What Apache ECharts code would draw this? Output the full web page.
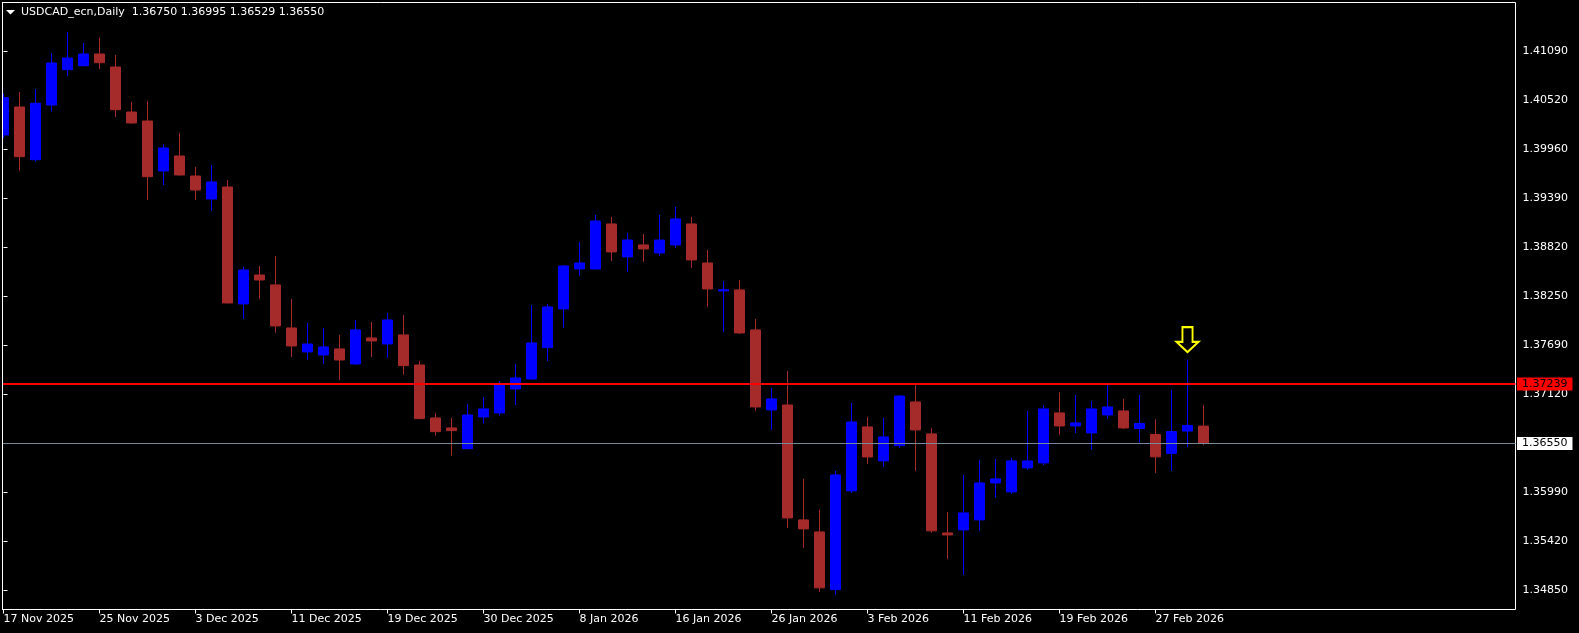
<!DOCTYPE html>
<html>
<head>
<meta charset="utf-8">
<script src="https://cdn.jsdelivr.net/npm/echarts@6/dist/echarts.min.js"></script>
<style>
html,body{margin:0;padding:0;background:#000;overflow:hidden;}
#chart{width:1579px;height:633px;}
</style>
</head>
<body>
<div id="chart"></div>
<script>
const symbolName = 'USDCAD_ecn,Daily';

const dates = [
  '17 Nov 2025','18 Nov 2025','19 Nov 2025','20 Nov 2025','21 Nov 2025','24 Nov 2025','25 Nov 2025','26 Nov 2025','27 Nov 2025','28 Nov 2025',
  '1 Dec 2025','2 Dec 2025','3 Dec 2025','4 Dec 2025','5 Dec 2025','8 Dec 2025','9 Dec 2025','10 Dec 2025','11 Dec 2025','12 Dec 2025',
  '15 Dec 2025','16 Dec 2025','17 Dec 2025','18 Dec 2025','19 Dec 2025','22 Dec 2025','23 Dec 2025','24 Dec 2025','26 Dec 2025','29 Dec 2025',
  '30 Dec 2025','31 Dec 2025','2 Jan 2026','5 Jan 2026','6 Jan 2026','7 Jan 2026','8 Jan 2026','9 Jan 2026','12 Jan 2026','13 Jan 2026',
  '14 Jan 2026','15 Jan 2026','16 Jan 2026','19 Jan 2026','20 Jan 2026','21 Jan 2026','22 Jan 2026','23 Jan 2026','26 Jan 2026','27 Jan 2026',
  '28 Jan 2026','29 Jan 2026','30 Jan 2026','2 Feb 2026','3 Feb 2026','4 Feb 2026','5 Feb 2026','6 Feb 2026','9 Feb 2026','10 Feb 2026',
  '11 Feb 2026','12 Feb 2026','13 Feb 2026','16 Feb 2026','17 Feb 2026','18 Feb 2026','19 Feb 2026','20 Feb 2026','23 Feb 2026','24 Feb 2026',
  '25 Feb 2026','26 Feb 2026','27 Feb 2026','2 Mar 2026','3 Mar 2026','4 Mar 2026'
];

const opens = [
  1.40121,1.40445,1.39835,1.40468,1.40877,1.40923,1.41059,1.40908,1.40387,1.40283,
  1.39704,1.39878,1.39646,1.39380,1.39519,1.38165,1.38500,1.38385,1.37887,1.37609,
  1.37574,1.37644,1.37470,1.37771,1.37701,1.37806,1.37458,1.36845,1.36729,1.36489,
  1.36856,1.36903,1.37180,1.37296,1.37659,1.38107,1.38570,1.38570,1.39091,1.38709,
  1.38848,1.38755,1.38848,1.39091,1.38639,1.38315,1.38327,1.37864,1.36937,1.36995,
  1.35664,1.35525,1.34857,1.36000,1.36741,1.36347,1.36524,1.37030,1.36660,1.35513,
  1.35548,1.35664,1.36092,1.35988,1.36266,1.36324,1.36903,1.36752,1.36671,1.36879,
  1.36926,1.36723,1.36653,1.36434,1.36692,1.36750
];
const closes = [
  1.40553,1.39870,1.40488,1.40955,1.41012,1.41059,1.40958,1.40414,1.40260,1.39638,
  1.39971,1.39658,1.39484,1.39577,1.38176,1.38558,1.38442,1.37910,1.37678,1.37701,
  1.37667,1.37516,1.37864,1.37736,1.37979,1.37450,1.36837,1.36686,1.36698,1.36879,
  1.36949,1.37238,1.37308,1.37713,1.38130,1.38604,1.38639,1.39125,1.38767,1.38905,
  1.38801,1.38905,1.39149,1.38674,1.38338,1.38330,1.37829,1.36972,1.37065,1.35687,
  1.35560,1.34877,1.36185,1.36798,1.36393,1.36625,1.37099,1.36706,1.35537,1.35490,
  1.35745,1.36092,1.36139,1.36347,1.36347,1.36949,1.36752,1.36787,1.36949,1.36972,
  1.36729,1.36781,1.36394,1.36687,1.36758,1.36550
];
const lows = [
  1.40086,1.39708,1.39812,1.40391,1.40804,1.40916,1.40885,1.40329,1.40250,1.39369,
  1.39542,1.39650,1.39369,1.39241,1.38170,1.37991,1.38222,1.37832,1.37551,1.37516,
  1.37470,1.37285,1.37458,1.37551,1.37539,1.37346,1.36830,1.36640,1.36408,1.36480,
  1.36779,1.36871,1.36995,1.37285,1.37505,1.37890,1.38492,1.38565,1.38662,1.38535,
  1.38651,1.38720,1.38813,1.38581,1.38130,1.37840,1.37817,1.36926,1.36706,1.35571,
  1.35340,1.34830,1.34796,1.35976,1.36312,1.36277,1.36497,1.36231,1.35513,1.35212,
  1.35027,1.35537,1.35919,1.35965,1.36243,1.36301,1.36648,1.36671,1.36474,1.36833,
  1.36717,1.36559,1.36208,1.36231,1.36504,1.36529
];
const highs = [
  1.40600,1.40619,1.40654,1.41070,1.41313,1.41186,1.41247,1.41047,1.40503,1.40515,
  1.40013,1.40144,1.39751,1.39774,1.39600,1.38593,1.38604,1.38720,1.38222,1.37945,
  1.37887,1.37806,1.37979,1.37956,1.38060,1.38037,1.37505,1.36903,1.36845,1.37007,
  1.37088,1.37273,1.37470,1.38153,1.38165,1.38616,1.38882,1.39195,1.39172,1.38987,
  1.38975,1.39195,1.39288,1.39172,1.38790,1.38431,1.38442,1.37991,1.37192,1.37389,
  1.36139,1.35780,1.36231,1.37018,1.36856,1.36845,1.37111,1.37227,1.36729,1.35757,
  1.36185,1.36359,1.36370,1.36382,1.36926,1.36995,1.37140,1.37111,1.37042,1.37227,
  1.37065,1.37111,1.36829,1.37169,1.37520,1.36995
];

const yTicks = [1.41090,1.40520,1.39960,1.39390,1.38820,1.38250,1.37690,1.37120,1.36550,1.35990,1.35420,1.34850];
const xTickIdx = [0,6,12,18,24,30,36,42,48,54,60,66,72];
const resistanceLevel = 1.37239;
const bidLevel = 1.36550;
const arrowIndex = 74;

const X_MIN = -0.0625, X_MAX = 94.5;
const Y_MIN = 1.346266, Y_MAX = 1.416550;

const last = opens.length - 1;
const titleText = symbolName + '  ' + [opens[last], highs[last], lows[last], closes[last]].map(v => v.toFixed(5)).join(' ');

const candleData = opens.map((o, i) => [i, o, closes[i], lows[i], highs[i]]);

const FONT = 'DejaVu Sans';

function levelLine(level, lineColor, lineWidth, labelBg, pad) {
  return [
    {coord: [X_MIN, level],
     lineStyle: {color: lineColor, width: lineWidth, type: 'solid'},
     label: {show: true, position: 'end', distance: 1.5, formatter: level.toFixed(5),
       color: '#000000', backgroundColor: labelBg, fontFamily: FONT, fontSize: 11,
       padding: pad, lineHeight: 12}},
    {coord: [X_MAX, level]}
  ];
}

const chart = echarts.init(document.getElementById('chart'), null, {renderer: 'canvas'});
chart.setOption({
  backgroundColor: '#000000',
  animation: false,
  title: {
    text: titleText,
    left: 21, top: 6, padding: 0,
    textStyle: {color: '#ffffff', fontFamily: FONT, fontSize: 11, fontWeight: 'normal', lineHeight: 13}
  },
  graphic: [
    {
      type: 'polygon', z: 100,
      shape: {points: [[6, 10], [15, 10], [10.5, 14.5]]},
      style: {fill: '#ffffff'}
    },
    {
      type: 'rect', z: 100, silent: true,
      shape: {x: 0, y: 0, width: 2, height: 633},
      style: {fill: '#000000'}
    },
    {
      type: 'line', z: 101, silent: true,
      shape: {x1: 2.5, y1: 2, x2: 2.5, y2: 610},
      style: {stroke: '#ffffff', lineWidth: 1}
    }
  ],
  grid: {
    left: 2.5, top: 2.5, width: 1513, height: 607,
    show: true, borderColor: '#ffffff', borderWidth: 1, backgroundColor: 'transparent'
  },
  xAxis: {
    type: 'value',
    min: X_MIN, max: X_MAX,
    splitLine: {show: false},
    axisLine: {show: false},
    axisTick: {show: true, customValues: xTickIdx, length: 4, lineStyle: {color: '#ffffff', width: 1}},
    axisLabel: {
      show: true, customValues: xTickIdx, color: '#ffffff', fontFamily: FONT, fontSize: 11,
      align: 'left', margin: 4,
      formatter: v => dates[Math.round(v)] || ''
    }
  },
  yAxis: {
    type: 'value', position: 'right', scale: true,
    min: Y_MIN, max: Y_MAX,
    splitLine: {show: false},
    axisLine: {show: false},
    axisTick: {show: true, customValues: yTicks, length: 4, lineStyle: {color: '#ffffff', width: 1}},
    axisLabel: {
      show: true, customValues: yTicks, color: '#ffffff', fontFamily: FONT, fontSize: 11, margin: 7,
      formatter: v => v.toFixed(5)
    }
  },
  series: [{
    type: 'candlestick',
    data: candleData,
    encode: {x: 0, y: [1, 2, 3, 4]},
    barWidth: 10,
    clip: true,
    itemStyle: {
      color: '#0000ff', color0: '#a52a2a',
      borderColor: '#0000ff', borderColor0: '#a52a2a', borderColorDoji: '#a52a2a',
      borderWidth: 1
    },
    markPoint: {
      silent: true, animation: false,
      data: [{
        coord: [arrowIndex, highs[arrowIndex]],
        symbol: 'path://M6.5 0 L17.5 0 L17.5 16 L24 16 L12 27 L0 16 L6.5 16 Z',
        symbolSize: [22, 25],
        symbolOffset: [0, -20],
        itemStyle: {color: '#000000', borderColor: '#ffff00', borderWidth: 2},
        label: {show: false}
      }]
    }
  }, {
    type: 'line',
    data: [],
    silent: true,
    markLine: {
      silent: true, symbol: ['none', 'none'], animation: false,
      data: [
        levelLine(bidLevel, '#778899', 1, '#ffffff', [1, 5, 0, 5]),
        levelLine(resistanceLevel, '#ff0000', 2, '#ff0000', [1, 5, 0, 5])
      ]
    }
  }]
});
</script>
</body>
</html>
